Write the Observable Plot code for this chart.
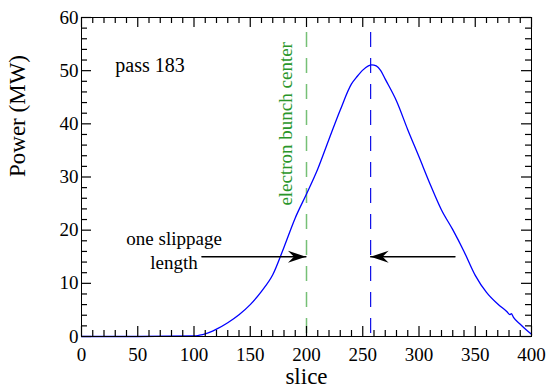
<!DOCTYPE html>
<html>
<head>
<meta charset="utf-8">
<script src="https://cdn.jsdelivr.net/npm/d3@7"></script>
<script src="https://cdn.jsdelivr.net/npm/@observablehq/plot@0.6"></script>
<style>
  html, body { margin: 0; padding: 0; background: #fff; }
  #chart svg { display: block; }
</style>
</head>
<body>
<div id="chart"></div>
<script>
// ---- data ----
const slice = [0, 50, 100, 105, 110, 120, 130, 140, 150, 160, 170, 180, 190, 200, 210, 220, 230, 240, 245, 250, 255, 258, 262, 266, 270, 280, 290, 300, 310, 320, 330, 340, 350, 360, 370, 378, 381, 382, 384, 390, 395, 400];
const power = [0, 0, 0.1, 0.25, 0.5, 1.4, 2.6, 4.1, 6.0, 8.5, 11.6, 16.8, 22.3, 26.8, 31.5, 37.1, 42.6, 47.5, 48.9, 50.1, 50.9, 51.1, 50.9, 50.0, 48.4, 44.3, 38.9, 33.8, 28.6, 23.8, 20.1, 16.0, 11.5, 8.3, 6.1, 4.7, 4.1, 4.3, 3.6, 2.3, 1.3, 0.4];

const xMajor = [0, 50, 100, 150, 200, 250, 300, 350, 400];
const xMinor = d3.range(0, 401, 10).filter(v => v % 50 !== 0);
const yMajor = [0, 10, 20, 30, 40, 50, 60];
const yMinor = d3.range(0, 61, 2).filter(v => v % 10 !== 0);

const bunchCenter = 200;      // electron bunch center (slice)
const peakSlice = 257;        // radiation peak (slice)
const dashTop = 57.2;         // top of dashed markers (MW)
const arrowLevel = 15;        // height of slippage arrows (MW)
const arrowLeftStart = 107;
const arrowRightStart = 332;

const passLabel = "pass 183";
const slipLines = ["one slippage", "length"];
const slipX = 82.3;
const slipY = [18.4, 13.9];
const bunchLabel = "electron bunch center";

const powerData = slice.map((s, i) => ({slice: s, power: power[i]}));

// layout
const W = 546, H = 389, mL = 81, mR = 15, mT = 17, mB = 53;
const plotW = W - mL - mR, plotH = H - mT - mB;
const xDomain = [0, 400], yDomain = [0, 60];

function stealth(color, context) {
  const ns = "http://www.w3.org/2000/svg";
  const doc = context.document;
  const m = doc.createElementNS(ns, "marker");
  m.setAttribute("viewBox", "-20 -8 22 16");
  m.setAttribute("markerWidth", 22);
  m.setAttribute("markerHeight", 16);
  m.setAttribute("markerUnits", "userSpaceOnUse");
  m.setAttribute("orient", "auto");
  m.setAttribute("overflow", "visible");
  const p = doc.createElementNS(ns, "path");
  p.setAttribute("d", "M0,0L-18,-6L-12,0L-18,6Z");
  p.setAttribute("fill", color);
  p.setAttribute("stroke", "none");
  m.appendChild(p);
  return m;
}

// inward ticks: rules whose length (in px) is converted to data units
const pxY = (yDomain[1] - yDomain[0]) / plotH;
const pxX = (xDomain[1] - xDomain[0]) / plotW;
function sideTicks(values, side, len) {
  const o = {stroke: "black", strokeWidth: 1.2};
  if (side === "bottom") return Plot.ruleX(values, {...o, x: d => d, y1: yDomain[0], y2: yDomain[0] + len * pxY});
  if (side === "top") return Plot.ruleX(values, {...o, x: d => d, y1: yDomain[1], y2: yDomain[1] - len * pxY});
  if (side === "left") return Plot.ruleY(values, {...o, y: d => d, x1: xDomain[0], x2: xDomain[0] + len * pxX});
  return Plot.ruleY(values, {...o, y: d => d, x1: xDomain[1], x2: xDomain[1] - len * pxX});
}

const font = "'Liberation Serif', 'Times New Roman', serif";
const fs = 19;

const chart = Plot.plot({
  width: W,
  height: H,
  marginLeft: mL,
  marginRight: mR,
  marginTop: mT,
  marginBottom: mB,
  style: {fontFamily: font, fontSize: fs + "px", background: "white", color: "black"},
  x: {domain: xDomain, label: null},
  y: {domain: yDomain, label: null},
  marks: [
    // tick labels
    Plot.axisX(xMajor, {anchor: "bottom", tickSize: 0, tickPadding: 11, fontSize: fs, label: null}),
    Plot.axisY(yMajor, {anchor: "left", tickSize: 0, tickPadding: 3, fontSize: fs, label: null}),
    // axis titles
    Plot.text(["slice"], {frameAnchor: "bottom", dy: 40, lineAnchor: "middle", fontSize: 23, text: d => d}),
    Plot.text(["Power (MW)"], {frameAnchor: "left", dx: -64, rotate: -90, lineAnchor: "middle", fontSize: 23, text: d => d}),
    // dashed markers
    Plot.ruleX([bunchCenter], {y1: dashTop, y2: 0, stroke: "#76c076", strokeWidth: 1.5, strokeDasharray: "15,11"}),
    Plot.ruleX([peakSlice], {y1: dashTop, y2: 0, stroke: "#1010e8", strokeWidth: 1.2, strokeDasharray: "15,11"}),
    // power curve
    Plot.line(powerData, {x: "slice", y: "power", stroke: "#0000ff", strokeWidth: 1.3, curve: "monotone-x"}),
    // slippage arrows
    Plot.line([{x: arrowLeftStart, y: arrowLevel}, {x: bunchCenter - 0.5, y: arrowLevel}], {x: "x", y: "y", stroke: "black", strokeWidth: 1.4, markerEnd: stealth}),
    Plot.line([{x: arrowRightStart, y: arrowLevel}, {x: peakSlice, y: arrowLevel}], {x: "x", y: "y", stroke: "black", strokeWidth: 1.4, markerEnd: stealth}),
    // annotations
    Plot.text([passLabel], {x: 30, y: 51, text: d => d, textAnchor: "start", fontSize: 20}),
    Plot.text(slipLines, {x: slipX, y: (d, i) => slipY[i], text: d => d, textAnchor: "middle", fontSize: 19}),
    Plot.text([bunchLabel], {x: 182, y: 40, text: d => d, rotate: -90, fill: "#2a962a", fontSize: 19}),
    // inward ticks on all four sides, and the frame
    sideTicks(xMajor, "bottom", 10), sideTicks(xMinor, "bottom", 6),
    sideTicks(xMajor, "top", 10), sideTicks(xMinor, "top", 6),
    sideTicks(yMajor, "left", 10), sideTicks(yMinor, "left", 6),
    sideTicks(yMajor, "right", 10), sideTicks(yMinor, "right", 6),
    Plot.frame({stroke: "black", strokeWidth: 1})
  ]
});
document.getElementById("chart").appendChild(chart);
</script>
</body>
</html>
